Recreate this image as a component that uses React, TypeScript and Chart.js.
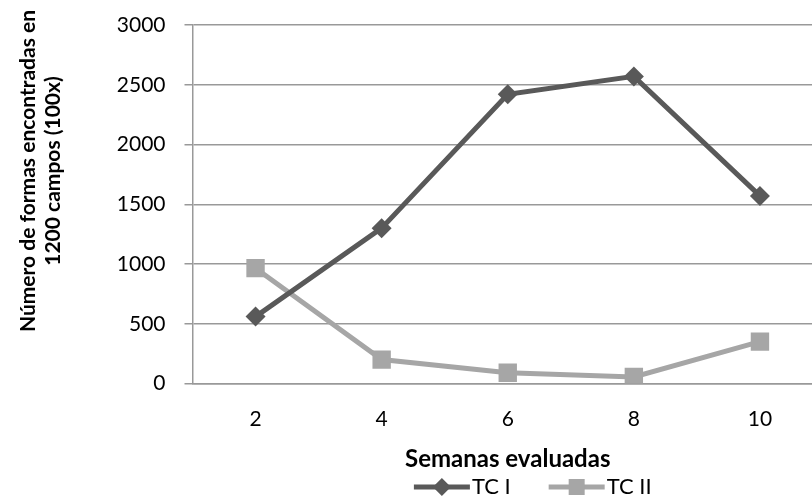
import React, { useEffect, useRef } from "react";
import { Chart, registerables } from "chart.js";

Chart.register(...registerables);

// ---- data ----
const weeks = ["2", "4", "6", "8", "10"];
const tcI = [560, 1300, 2420, 2570, 1570];
const tcII = [965, 200, 90, 55, 350];
const seriesNames = ["TC I", "TC II"];
const yAxisTitle = ["Número de formas encontradas en", "1200 campos (100x)"];
const xAxisTitle = "Semanas evaluadas";
const yMin = 0;
const yMax = 3000;
const yStep = 500;

const FONT = "Lato, 'Open Sans', sans-serif";
const DARK = "#595959";
const LIGHT = "#A6A6A6";
const GRID = "#999999";

const yTitlePlugin = {
  id: "yTitle",
  afterDraw(chart: any) {
    const ctx = chart.ctx;
    const size = 21;
    const lh = size * 1.2;
    ctx.save();
    ctx.font = `bold ${size}px ${FONT}`;
    ctx.fillStyle = "#000";
    ctx.textAlign = "center";
    ctx.textBaseline = "middle";
    ctx.translate(28.5, 171);
    ctx.rotate(-Math.PI / 2);
    yAxisTitle.forEach((line, i) => ctx.fillText(line, 0, i * lh));
    ctx.restore();
  },
};

const legendPlugin = {
  id: "excelLegend",
  afterDraw(chart: any) {
    const ctx = chart.ctx;
    const area = chart.chartArea;
    const y = 487;
    const lineLen = 56;
    const gapText = 2;
    const gapItems = 38;
    ctx.save();
    ctx.font = `22px ${FONT}`;
    const items = chart.data.datasets.map((ds: any) => ({
      ds,
      w: ctx.measureText(ds.label).width,
    }));
    const total =
      items.reduce((s: number, it: any) => s + lineLen + gapText + it.w, 0) +
      gapItems * (items.length - 1);
    let x = (area.left + area.right) / 2 + 25 - total / 2;
    for (const it of items) {
      const ds = it.ds;
      ctx.strokeStyle = ds.borderColor;
      ctx.lineWidth = 5;
      ctx.beginPath();
      ctx.moveTo(x, y);
      ctx.lineTo(x + lineLen, y);
      ctx.stroke();
      const cx = x + lineLen / 2;
      ctx.fillStyle = ds.borderColor;
      ctx.beginPath();
      if (ds.pointStyle === "rectRot") {
        const r = 9;
        ctx.moveTo(cx, y - r);
        ctx.lineTo(cx + r, y);
        ctx.lineTo(cx, y + r);
        ctx.lineTo(cx - r, y);
        ctx.closePath();
      } else {
        const s = 8;
        ctx.rect(cx - s, y - s, 2 * s, 2 * s);
      }
      ctx.fill();
      ctx.fillStyle = "#000";
      ctx.textBaseline = "middle";
      ctx.textAlign = "left";
      ctx.fillText(ds.label, x + lineLen + gapText, y);
      x += lineLen + gapText + it.w + gapItems;
    }
    ctx.restore();
  },
};

export default function App() {
  const ref = useRef<HTMLCanvasElement | null>(null);

  useEffect(() => {
    if (!ref.current) return;
    const chart = new Chart(ref.current, {
      type: "line",
      data: {
        labels: weeks,
        datasets: [
          {
            label: seriesNames[0],
            data: tcI,
            borderColor: DARK,
            backgroundColor: DARK,
            borderWidth: 5,
            pointStyle: "rectRot",
            pointRadius: 10,
            pointBorderWidth: 0,
            pointBackgroundColor: DARK,
            tension: 0,
          },
          {
            label: seriesNames[1],
            data: tcII,
            borderColor: LIGHT,
            backgroundColor: LIGHT,
            borderWidth: 5,
            pointStyle: "rect",
            pointRadius: 13,
            pointBorderWidth: 0,
            pointBackgroundColor: LIGHT,
            tension: 0,
          },
        ],
      },
      options: {
        animation: false,
        responsive: false,
        devicePixelRatio: 1,
        layout: { padding: { top: 25, bottom: 26, left: 0, right: 0 } },
        plugins: {
          legend: { display: false },
          tooltip: { enabled: false },
        },
        scales: {
          x: {
            type: "category",
            offset: true,
            grid: { display: false, drawTicks: false },
            border: { display: true, color: GRID, width: 1.5 },
            ticks: { color: "#000", font: { family: FONT, size: 21 }, padding: 23 },
            title: {
              display: true,
              text: xAxisTitle,
              color: "#000",
              font: { family: FONT, size: 24, weight: "bold" },
              padding: { top: 0, bottom: 0 },
            },
            afterFit: (s: any) => {
              s.height = 90.5;
            },
          },
          y: {
            min: yMin,
            max: yMax,
            ticks: {
              stepSize: yStep,
              color: "#000",
              font: { family: FONT, size: 21 },
              padding: 19,
              callback: (v: any) => String(v),
            },
            grid: { color: GRID, lineWidth: 1.5, tickLength: 8, drawTicks: true },
            border: { display: true, color: GRID, width: 1.5 },
            title: { display: false },
            afterFit: (s: any) => {
              s.width = 192.5;
              s.paddingTop = 0;
              s.paddingBottom = 0;
            },
          },
        },
      },
      plugins: [yTitlePlugin, legendPlugin],
    });
    return () => chart.destroy();
  }, []);

  return (
    <div
      style={{
        position: "absolute",
        left: 0,
        top: 0,
        width: 812,
        height: 500,
        overflow: "hidden",
        background: "#fff",
      }}
    >
      <canvas ref={ref} width={836} height={500} style={{ display: "block" }} />
    </div>
  );
}
